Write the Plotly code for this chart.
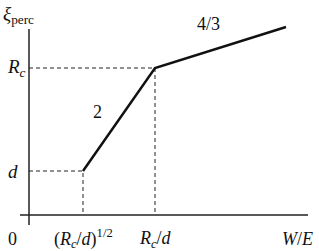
import plotly.graph_objects as go

# schematic data (x: W/E, y: xi_perc), in arbitrary units
curve_x = [54, 126, 257]
curve_y = [44, 147, 188]
slope_labels = ["2", "4/3"]
x_tick_labels = ["0", "(<i>R<sub>c</sub></i>/<i>d</i>)<sup>1/2</sup>", "<i>R<sub>c</sub></i>/<i>d</i>", "<i>W</i>/<i>E</i>"]
y_tick_labels = ["<i>d</i>", "<i>R<sub>c</sub></i>"]
y_title = "<i>ξ</i><sub>perc</sub>"

FONT = "Liberation Serif, Times New Roman, serif"
fig = go.Figure()

# axes
fig.add_trace(go.Scatter(x=[-9, 279], y=[0, 0], mode="lines",
                         line=dict(color="#222", width=1.5), hoverinfo="skip"))
fig.add_trace(go.Scatter(x=[0, 0], y=[-10, 186], mode="lines",
                         line=dict(color="#222", width=1.5), hoverinfo="skip"))

# dashed guides
for px, py in zip(curve_x[:2], curve_y[:2]):
    fig.add_trace(go.Scatter(x=[0, px, px], y=[py, py, 0], mode="lines",
                             line=dict(color="#222", width=1, dash="4px,3px"),
                             hoverinfo="skip"))

# main curve
fig.add_trace(go.Scatter(x=curve_x, y=curve_y, mode="lines",
                         line=dict(color="#111", width=2.5), hoverinfo="skip"))

ann = []
# y labels
ann.append(dict(x=-16, y=curve_y[0], text=y_tick_labels[0], font_size=19))
ann.append(dict(x=-13, y=curve_y[1], text=y_tick_labels[1], font_size=19))
ann.append(dict(x=-11, y=200, text=y_title, font_size=19))
# slope labels
ann.append(dict(x=68, y=103, text=slope_labels[0], font_size=18))
ann.append(dict(x=179, y=191, text=slope_labels[1], font_size=18))
# x labels
ann.append(dict(x=-17, y=-24, text=x_tick_labels[0], font_size=18))
ann.append(dict(x=54, y=-23, text=x_tick_labels[1], font_size=18))
ann.append(dict(x=126, y=-24, text=x_tick_labels[2], font_size=18))
ann.append(dict(x=268, y=-24, text=x_tick_labels[3], font_size=18))

for a in ann:
    fig.add_annotation(x=a["x"], y=a["y"], text=a["text"], showarrow=False,
                       font=dict(family=FONT, size=a["font_size"], color="#111"),
                       xanchor="center", yanchor="middle")

fig.update_layout(width=319, height=251, autosize=False,
                  margin=dict(l=0, r=0, t=0, b=0),
                  paper_bgcolor="white", plot_bgcolor="white",
                  showlegend=False)
fig.update_xaxes(range=[-29, 290], visible=False)
fig.update_yaxes(range=[-36, 215], visible=False)

fig.write_html("out.html", config={"displayModeBar": False},
               post_script="document.body.style.margin='0';")
